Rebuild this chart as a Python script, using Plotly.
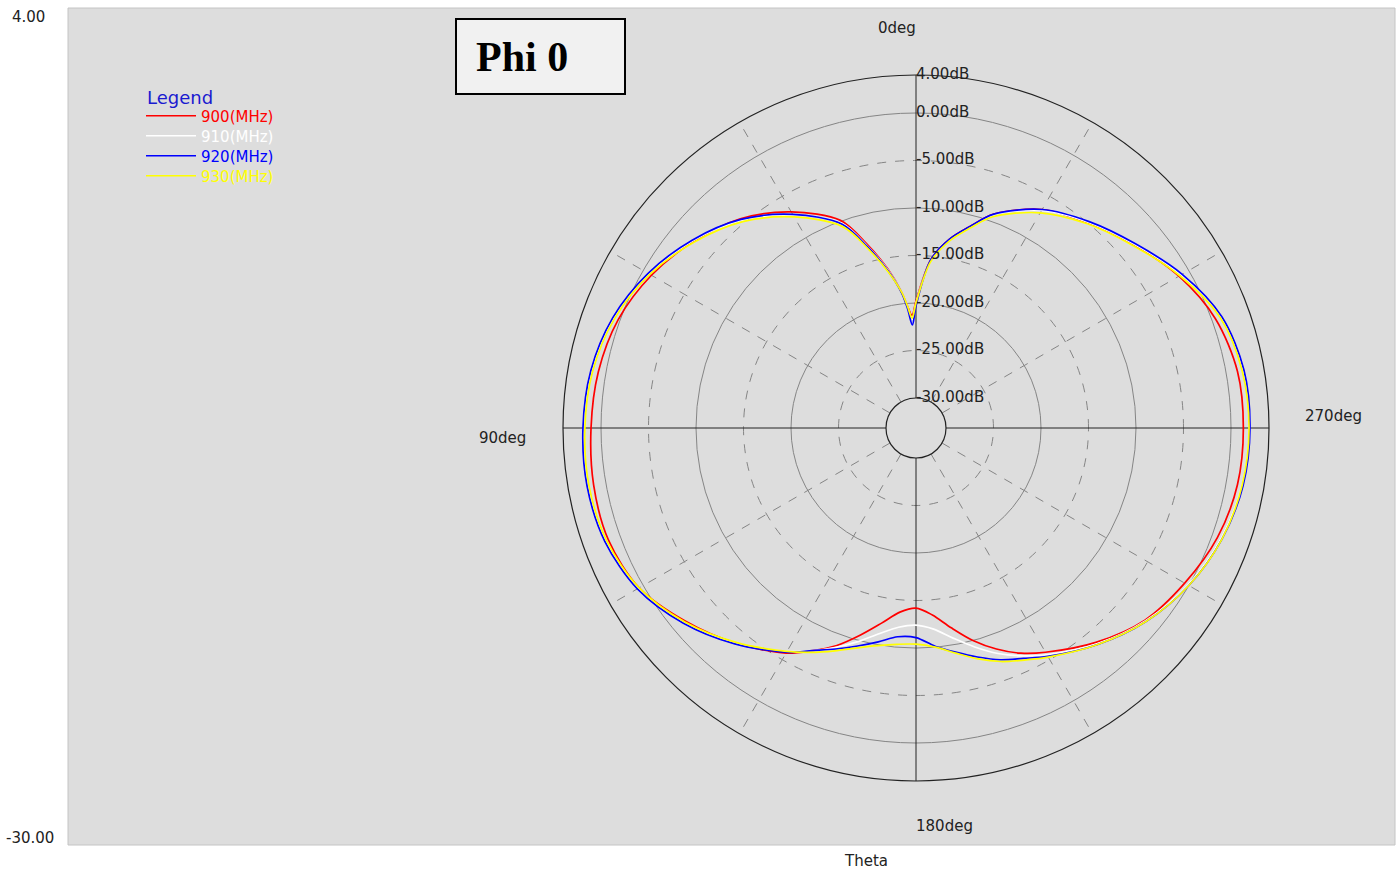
import plotly.graph_objects as go

# theta in degrees, gain in dB
THETA = [0, 2, 4, 6, 10, 15, 20, 30, 40, 50, 60, 70, 80, 90, 100, 110, 120, 130, 140,
         150, 155, 160, 165, 170, 175, 180, 185, 190, 195, 200, 205, 210, 220, 230, 240,
         250, 260, 270, 280, 290, 300, 310, 320, 330, 340, 345, 350, 355, 360]

GAIN_900 = [-19.8, -21.3, -20.3, -18.8, -16.2, -13.1, -9.9, -6.9, -4.4, -2.6, -1.0, 0.2, 0.8,
            1.05, 1.3, 1.3, 0.5, -1.5, -3.6, -5.8, -7.3, -8.8, -10.6, -12.3, -13.7, -14.2,
            -13.4, -11.8, -10.0, -8.4, -7.0, -5.9, -3.7, -1.7, -0.5, 0.6, 1.2, 1.3, 1.2, 0.4,
            -1.2, -3.2, -5.0, -6.6, -9.2, -11.2, -13.0, -15.4, -19.8]
GAIN_910 = [-20.0, -21.7, -20.4, -18.8, -16.3, -13.3, -10.2, -7.3, -4.6, -2.5, -0.7, 0.7, 1.5,
            1.8, 1.9, 1.6, 0.6, -1.3, -3.6, -6.0, -7.3, -8.6, -9.9, -11.2, -12.1, -12.4,
            -11.9, -10.7, -9.3, -7.9, -6.7, -5.6, -3.5, -1.6, -0.1, 1.0, 1.7, 1.95, 1.8, 1.0,
            -0.9, -3.1, -4.9, -6.7, -9.3, -11.3, -13.1, -15.5, -20.0]
GAIN_920 = [-20.3, -22.3, -20.6, -18.9, -16.4, -13.4, -10.3, -7.2, -4.5, -2.4, -0.6, 0.8, 1.6,
            1.9, 2.0, 1.7, 0.7, -1.2, -3.5, -5.9, -7.3, -8.4, -9.4, -10.3, -11.1, -11.1,
            -10.1, -9.2, -8.2, -7.2, -6.4, -5.4, -3.4, -1.5, 0.0, 1.1, 1.8, 2.0, 1.9, 1.1,
            -0.8, -3.0, -4.8, -6.6, -9.2, -11.2, -13.0, -15.4, -20.3]
GAIN_930 = [-20.0, -21.6, -20.3, -18.8, -16.5, -13.6, -10.6, -7.5, -4.8, -2.7, -0.8, 0.6, 1.4,
            1.7, 1.8, 1.5, 0.5, -1.4, -3.7, -6.0, -7.1, -8.2, -9.2, -9.9, -10.3, -10.4,
            -10.0, -9.1, -8.0, -7.0, -6.2, -5.3, -3.4, -1.5, 0.0, 1.1, 1.7, 1.9, 1.7, 0.9,
            -1.1, -3.3, -5.1, -7.0, -9.5, -11.4, -13.2, -15.6, -20.0]

SERIES = [("900(MHz)", GAIN_900, "#ff0000"),
          ("910(MHz)", GAIN_910, "#ffffff"),
          ("920(MHz)", GAIN_920, "#0000ff"),
          ("930(MHz)", GAIN_930, "#ffff00")]

R_MIN, R_MAX = -30, 4
RING_VALUES = [4, 0, -5, -10, -15, -20, -25, -30]
RING_LABELS = ["4.00dB", "0.00dB", "-5.00dB", "-10.00dB", "-15.00dB", "-20.00dB",
               "-25.00dB", "-30.00dB"]
SOLID_RINGS = [0, -10, -20]
DASHED_RINGS = [-5, -15, -25]
MAIN_SPOKES = [0, 90, 180, 270]
MINOR_SPOKES = [30, 60, 120, 150, 210, 240, 300, 330]
SPOKE_LABELS = ["0deg", "90deg", "180deg", "270deg"]

W, H = 1400, 874
FONT = "DejaVu Sans"
GRAY_BG = "#dddddd"
GRID = "#858585"
DARK = "#222222"

domain = dict(x=[563 / W, 1269 / W], y=[(H - 781) / H, (H - 75) / H])
hole = 30 / 353


def polar_layout(radial, angular):
    base_r = dict(range=[R_MIN, R_MAX], showline=False, showticklabels=False,
                  ticks="", angle=90)
    base_a = dict(rotation=90, direction="counterclockwise", showticklabels=False,
                  ticks="", showline=False)
    base_r.update(radial)
    base_a.update(angular)
    return dict(domain=domain, hole=hole, bgcolor="rgba(0,0,0,0)",
                radialaxis=base_r, angularaxis=base_a)


fig = go.Figure()

# empty traces so the two grid-only polar subplots get drawn
for sp in ("polar", "polar2"):
    fig.add_trace(go.Scatterpolar(r=[], theta=[], subplot=sp, showlegend=False,
                                  hoverinfo="skip"))

for i, (name, gain, color) in enumerate(SERIES):
    fig.add_trace(go.Scatterpolar(
        theta=THETA, r=gain, mode="lines", name=name,
        line=dict(color=color, width=1.7, shape="spline", smoothing=0.9),
        subplot="polar3",
        legend="legend" if i == 0 else f"legend{i + 1}",
    ))

fig.add_trace(go.Scatterpolar(
    theta=[0] * len(RING_VALUES), r=RING_VALUES, mode="text", text=RING_LABELS,
    textposition="middle right", textfont=dict(family=FONT, size=15, color=DARK),
    subplot="polar3", showlegend=False, cliponaxis=False, hoverinfo="skip",
))

fig.update_layout(
    width=W, height=H,
    margin=dict(l=0, r=0, t=0, b=0),
    paper_bgcolor="white",
    plot_bgcolor="white",
    polar=polar_layout(
        dict(tickvals=SOLID_RINGS, gridcolor=GRID, gridwidth=1),
        dict(tickvals=[], showgrid=False),
    ),
    polar2=polar_layout(
        dict(tickvals=DASHED_RINGS, gridcolor=GRID, gridwidth=1, griddash="dash"),
        dict(tickvals=MINOR_SPOKES, gridcolor=GRID, gridwidth=1, griddash="dash"),
    ),
    polar3=polar_layout(
        dict(tickvals=[R_MIN], gridcolor=DARK, gridwidth=1.2),
        dict(tickvals=MAIN_SPOKES, gridcolor=DARK, gridwidth=1.2,
             showline=True, linecolor=DARK, linewidth=1.2),
    ),
    shapes=[
        dict(type="rect", xref="paper", yref="paper", layer="below",
             x0=68 / W, x1=1395 / W, y0=(H - 845) / H, y1=(H - 8) / H,
             fillcolor=GRAY_BG, line=dict(color="#c4c4c4", width=1)),
        dict(type="rect", xref="paper", yref="paper",
             x0=456 / W, x1=625 / W, y0=(H - 94) / H, y1=(H - 19) / H,
             fillcolor="#f1f1f1", line=dict(color="black", width=2)),
    ],
)

legend_rows = [116, 136, 156, 176]
for i, (name, gain, color) in enumerate(SERIES):
    key = "legend" if i == 0 else f"legend{i + 1}"
    fig.update_layout({key: dict(
        x=141 / W, y=(H - legend_rows[i]) / H, xanchor="left", yanchor="middle",
        bgcolor="rgba(0,0,0,0)", borderwidth=0, itemwidth=50,
        font=dict(family=FONT, size=15, color=color),
    )})

annotations = [
    dict(text="<b>Phi 0</b>", x=522 / W, y=(H - 57) / H,
         font=dict(family="Liberation Serif", size=42, color="black")),
    dict(text="Legend", x=180 / W, y=(H - 97) / H,
         font=dict(family=FONT, size=18, color="#1a1ad0")),
    dict(text="4.00", x=28 / W, y=(H - 17) / H, font=dict(family=FONT, size=15, color=DARK)),
    dict(text="-30.00", x=30 / W, y=(H - 838) / H, font=dict(family=FONT, size=15, color=DARK)),
    dict(text="Theta", x=866 / W, y=(H - 861) / H, font=dict(family=FONT, size=15, color=DARK)),
]
spoke_pos = [(897, 28), (503, 438), (944, 826), (1333, 416)]
for label, (px_, py_) in zip(SPOKE_LABELS, spoke_pos):
    annotations.append(dict(text=label, x=px_ / W, y=(H - py_) / H,
                            font=dict(family=FONT, size=15, color=DARK)))
for a in annotations:
    a.update(xref="paper", yref="paper", showarrow=False, xanchor="center", yanchor="middle")
fig.update_layout(annotations=annotations)

fig.write_html("out.html", config={"displayModeBar": False},
               post_script="document.body.style.margin='0';")
